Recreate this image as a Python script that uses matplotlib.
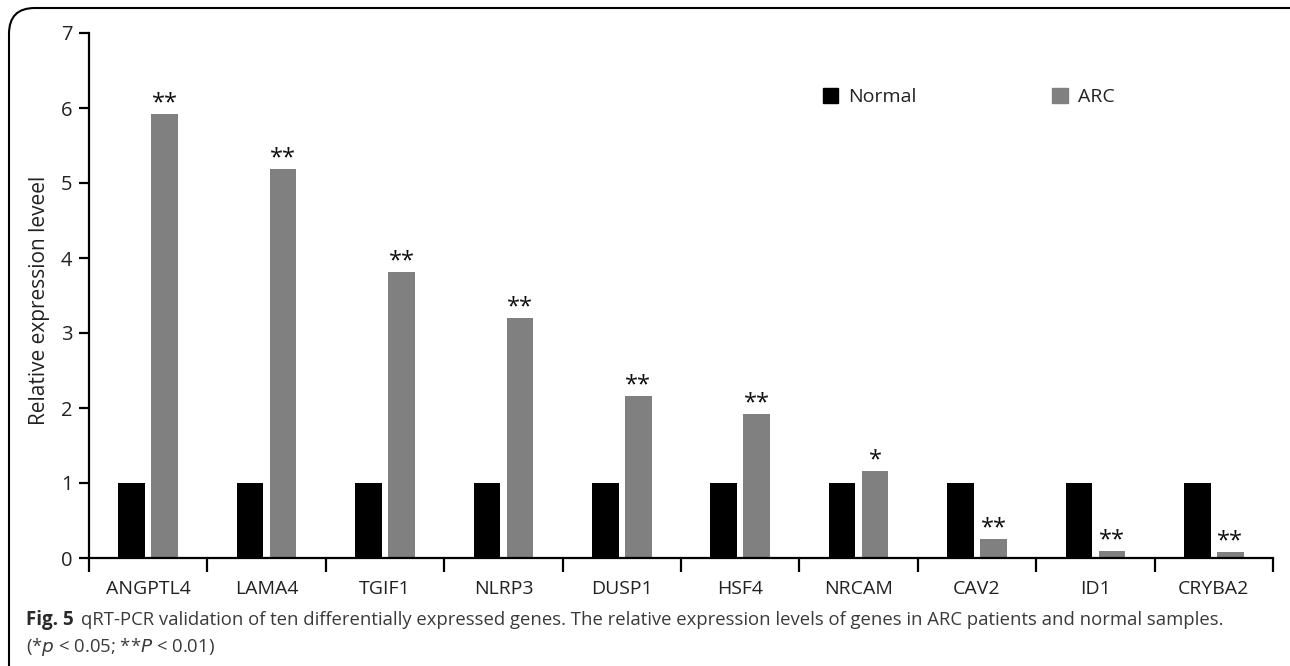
import matplotlib
matplotlib.use("Agg")
import matplotlib.pyplot as plt
import numpy as np
from matplotlib.patches import FancyBboxPatch, Patch

genes = ["ANGPTL4", "LAMA4", "TGIF1", "NLRP3", "DUSP1",
         "HSF4", "NRCAM", "CAV2", "ID1", "CRYBA2"]
normal = [1, 1, 1, 1, 1, 1, 1, 1, 1, 1]
arc = [5.92, 5.19, 3.81, 3.20, 2.16, 1.92, 1.16, 0.26, 0.10, 0.08]
signif = ["**", "**", "**", "**", "**", "**", "*", "**", "**", "**"]

plt.rcParams["font.family"] = ["Open Sans", "DejaVu Sans"]

W, H = 1290, 666
fig = plt.figure(figsize=(W / 100, H / 100), dpi=100)
ax = fig.add_axes([89 / W, 1 - 558 / H, (1273 - 89) / W, (558 - 33) / H])

x = np.arange(len(genes)) + 0.5
bw = 0.225
off = 0.14
ax.bar(x - off, normal, width=bw, color="black", label="Normal")
ax.bar(x + off, arc, width=bw, color="#808080", label="ARC")

for xi, v, s in zip(x, arc, signif):
    ax.text(xi + off, v - 0.02, s, ha="center", va="bottom", fontsize=17, color="#111111")

ax.set_xlim(0, len(genes))
ax.set_ylim(0, 7)
ax.set_yticks(range(8))
ax.set_xticks(np.arange(len(genes) + 1))
ax.set_xticklabels([])
ax.set_xticks(x, minor=True)
ax.set_xticklabels(genes, minor=True)
ax.tick_params(axis="x", which="major", direction="out", length=10, width=1.6)
ax.tick_params(axis="x", which="minor", length=0, pad=16, labelsize=14, labelcolor="#222222")
ax.tick_params(axis="y", direction="out", length=7, width=1.6, labelsize=14.5,
               labelcolor="#222222", pad=5)
for side in ["top", "right"]:
    ax.spines[side].set_visible(False)
for side in ["left", "bottom"]:
    ax.spines[side].set_linewidth(1.6)

fig.text(40 / W, 1 - 300 / H, "Relative expression leveel", rotation=90,
         ha="center", va="center", fontsize=15, color="#222222")

handles = [Patch(color="black"), Patch(color="#808080")]
leg = ax.legend(handles, ["Normal", "ARC"], ncol=2, frameon=False,
                loc="center left", bbox_to_anchor=(805 / W, 1 - 97 / H),
                bbox_transform=fig.transFigure, fontsize=14,
                handlelength=0.8, handleheight=0.8, handletextpad=0.5,
                columnspacing=7.0)
for t in leg.get_texts():
    t.set_color("#222222")

fig.text(26 / W, 1 - 620 / H, "Fig. 5", fontsize=13.5, fontweight="bold",
         color="#2a2a2a", va="center", ha="left")
fig.text(81 / W, 1 - 620 / H,
         "qRT-PCR validation of ten differentially expressed genes. The relative expression levels of genes in ARC patients and normal samples.",
         fontsize=13.3, color="#3a3a3a", va="center", ha="left")
fig.text(26 / W, 1 - 647 / H, "(*$\\it{p}$ < 0.05; **$\\it{P}$ < 0.01)",
         fontsize=13.3, color="#3a3a3a", va="center", ha="left")

box = FancyBboxPatch((9 / W, -0.05), 1.1, 1 - 8 / H + 0.05,
                     boxstyle="round,pad=0,rounding_size=0.02",
                     transform=fig.transFigure, fill=False, edgecolor="black",
                     linewidth=1.5, mutation_aspect=W / H)
fig.patches.append(box)

fig.savefig("out.png", dpi=100)
